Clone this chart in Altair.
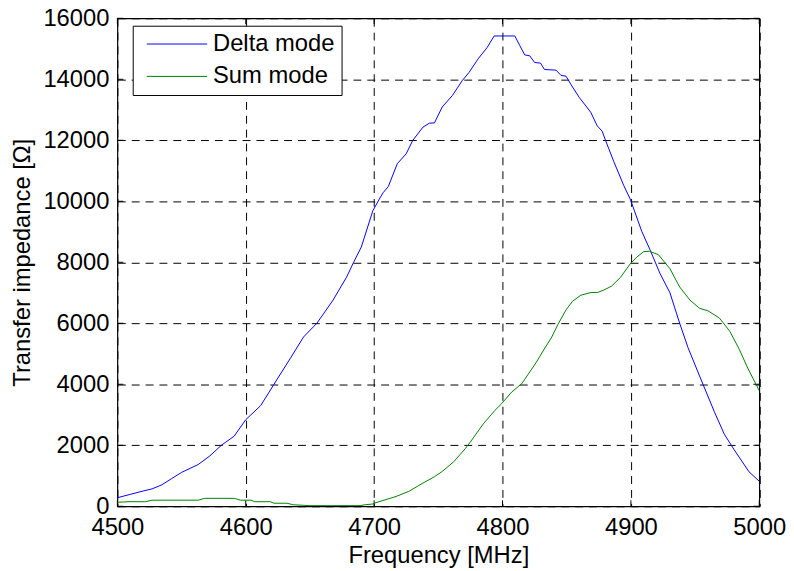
import altair as alt
import pandas as pd

# ---- data ----
delta_freq = [4500, 4510, 4520, 4527, 4534.5, 4542, 4550, 4563, 4572, 4581, 4591, 4600,
              4611.6, 4622, 4635, 4645, 4655.4, 4668, 4678.5, 4684, 4690, 4699, 4704,
              4707, 4711, 4718, 4725, 4730, 4738, 4743, 4747, 4753, 4761, 4768.5, 4774,
              4781, 4788, 4793.5, 4809.6, 4813.5, 4817.3, 4821.2, 4825, 4829.6, 4832.7,
              4841.7, 4845.5, 4849.5, 4853.3, 4859.7, 4868.7, 4873.8, 4877.6, 4880.3,
              4886.7, 4894.4, 4899.5, 4908.5, 4915, 4922.6, 4930.4, 4938, 4944.5, 4953.5,
              4965, 4972.8, 4980.5, 4992, 5000]
delta_val = [280, 390, 500, 570, 700, 900, 1110, 1370, 1650, 2000, 2300, 2840,
             3300, 4000, 4870, 5550, 6000, 6760, 7510, 8000, 8500, 9690, 10070,
             10280, 10480, 11230, 11560, 11990, 12430, 12560, 12570, 13090, 13470, 13950, 14230,
             14670, 15040, 15420, 15420, 15100, 14800, 14770, 14550, 14530, 14320,
             14300, 14130, 14100, 13830, 13410, 12920, 12470, 12300, 11990,
             11300, 10520, 10070, 9010, 8400, 7640, 7000, 6000, 5200, 4270,
             3100, 2360, 1850, 1130, 820]

sum_freq = [4500, 4509, 4522, 4527, 4563, 4568, 4591, 4596, 4604, 4607, 4619, 4622, 4632,
            4637, 4650, 4689, 4693, 4699, 4700, 4717, 4727, 4738, 4747, 4753, 4762, 4771,
            4775, 4785, 4794, 4799, 4807, 4815, 4820, 4826, 4833, 4838, 4843, 4849.5,
            4854.5, 4861, 4869, 4874, 4879, 4885, 4892, 4899.5, 4904.6, 4910, 4914.4,
            4921.4, 4930.4, 4938, 4946, 4953.5, 4960, 4969, 4977, 4984.4, 4991, 5000]
sum_val = [130, 150, 150, 200, 200, 260, 260, 200, 200, 150, 150, 100, 100,
           50, 20, 20, 50, 75, 100, 320, 490, 760, 970, 1140, 1460, 1890,
           2110, 2700, 3140, 3350, 3740, 4020, 4330, 4700, 5190, 5520, 5950, 6440,
           6720, 6920, 7010, 7010, 7090, 7220, 7510, 7950, 8170, 8350, 8360,
           8250, 7790, 7190, 6760, 6490, 6410, 6170, 5740, 5150, 4530, 3790]

series_names = ["Delta mode", "Sum mode"]
series_colors = ["#0000ff", "#008000"]
x_ticks = [4500, 4600, 4700, 4800, 4900, 5000]
y_ticks = [0, 2000, 4000, 6000, 8000, 10000, 12000, 14000, 16000]

x_title = "Frequency [MHz]"
y_title = "Transfer impedance [Ω]"

# ---- layout ----
W, H = 648.5, 493
FONT = "Liberation Sans"
FS = 24
TICK = 6

df = pd.concat([
    pd.DataFrame({"f": delta_freq, "v": delta_val, "s": series_names[0], "o": range(len(delta_freq))}),
    pd.DataFrame({"f": sum_freq, "v": sum_val, "s": series_names[1], "o": range(len(sum_freq))}),
])

xscale = alt.Scale(domain=[x_ticks[0], x_ticks[-1]], nice=False, zero=False)
yscale = alt.Scale(domain=[y_ticks[0], y_ticks[-1]], nice=False, zero=False)

xaxis = alt.Axis(values=x_ticks, format="d", title=x_title, domain=False, ticks=False, tickSize=0,
                 labelFont=FONT, labelFontSize=FS, labelColor="black", labelBaseline="alphabetic",
                 labelPadding=28.7, labelFlush=False,
                 grid=True, gridColor="black", gridDash=[8, 6], gridWidth=1, gridOpacity=1,
                 titleFont=FONT, titleFontSize=FS, titleFontWeight="normal", titleColor="black",
                 titleBaseline="alphabetic", titleY=56.7, titleX=W / 2, titleAlign="center")
yaxis = alt.Axis(values=y_ticks, format="d", title=y_title, domain=False, ticks=False, tickSize=0,
                 labelFont=FONT, labelFontSize=FS, labelColor="black", labelPadding=8.5,
                 labelFlush=False,
                 grid=True, gridColor="black", gridDash=[8, 6], gridWidth=1, gridOpacity=1,
                 titleFont=FONT, titleFontSize=FS, titleFontWeight="normal", titleColor="black",
                 titleAngle=-90, titleBaseline="alphabetic", titleAlign="center",
                 titleX=-88.3, titleY=H / 2)

lines = alt.Chart(df).mark_line(strokeWidth=1, clip=True).encode(
    x=alt.X("f:Q", scale=xscale, axis=xaxis),
    y=alt.Y("v:Q", scale=yscale, axis=yaxis),
    order="o:Q",
    color=alt.Color("s:N", scale=alt.Scale(domain=series_names, range=series_colors),
                    legend=alt.Legend(title=None, orient="none", legendX=15.5, legendY=7.5,
                                      strokeColor="black", fillColor="white", padding=6.5,
                                      symbolType="M-30.5,0H30.5", symbolSize=4,
                                      symbolStrokeWidth=1,
                                      symbolOffset=26.2, labelOffset=24.4,
                                      labelFont=FONT, labelFontSize=FS, labelColor="black",
                                      rowPadding=8.7, labelLimit=300)),
)

xt = pd.DataFrame({"t": x_ticks})
yt = pd.DataFrame({"t": y_ticks})
ticks_bottom = alt.Chart(xt).mark_rule(color="black", strokeWidth=1).encode(
    x=alt.X("t:Q", scale=xscale), y=alt.value(H - TICK), y2=alt.value(H))
ticks_top = alt.Chart(xt).mark_rule(color="black", strokeWidth=1).encode(
    x=alt.X("t:Q", scale=xscale), y=alt.value(0), y2=alt.value(TICK))
ticks_left = alt.Chart(yt).mark_rule(color="black", strokeWidth=1).encode(
    y=alt.Y("t:Q", scale=yscale), x=alt.value(0), x2=alt.value(TICK))
ticks_right = alt.Chart(yt).mark_rule(color="black", strokeWidth=1).encode(
    y=alt.Y("t:Q", scale=yscale), x=alt.value(W - TICK), x2=alt.value(W))

chart = alt.layer(ticks_bottom, ticks_top, ticks_left, ticks_right, lines).properties(
    width=W, height=H,
    autosize=alt.AutoSizeParams(type="none"),
    padding={"left": 110.5, "top": 7.5, "right": 27, "bottom": 63},
    background="white",
).configure_view(stroke="black", strokeWidth=1.2)

chart.save("out.html", embed_options={"renderer": "svg", "actions": False})
